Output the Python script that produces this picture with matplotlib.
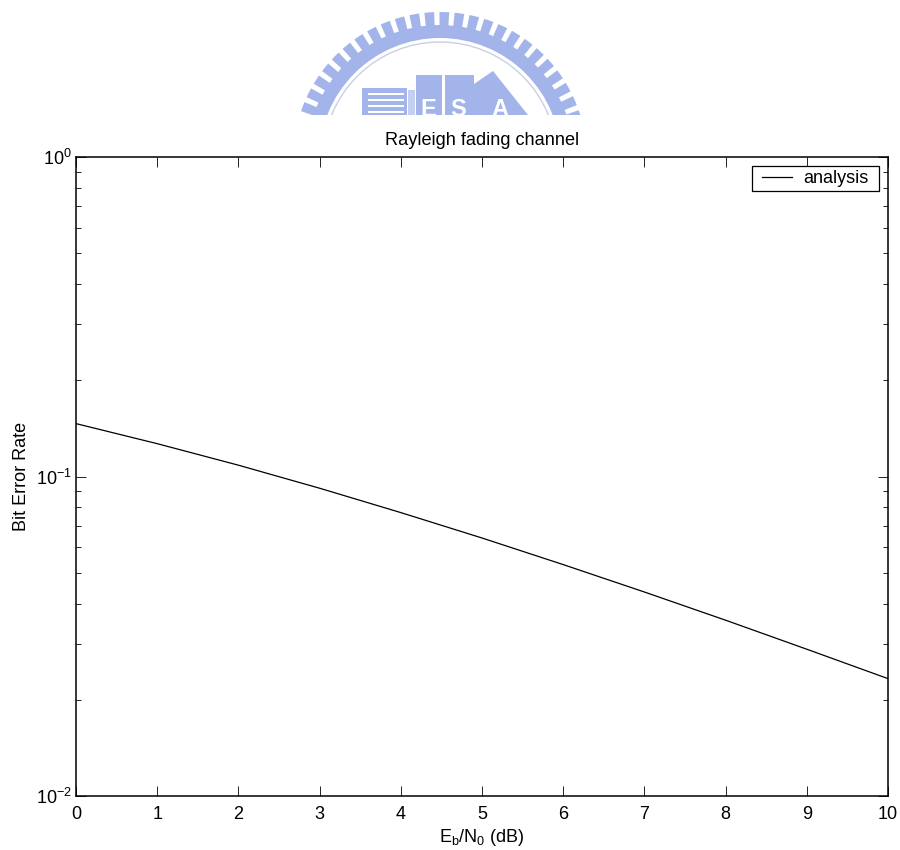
import numpy as np
from matplotlib import pyplot as plt
from matplotlib.patches import Wedge, Rectangle, Polygon, Circle
from matplotlib.ticker import LogLocator, NullFormatter

plt.rcParams['font.family'] = ['Liberation Sans', 'DejaVu Sans']
plt.rcParams['mathtext.fontset'] = 'custom'
plt.rcParams['mathtext.rm'] = 'Liberation Sans'
plt.rcParams['mathtext.it'] = 'Liberation Sans'
plt.rcParams['mathtext.default'] = 'regular'

# Curve
snr_db = [0, 1, 2, 3, 4, 5, 6, 7, 8, 9, 10]
ber = [0.1464, 0.1267, 0.1085, 0.0919, 0.0771, 0.0642, 0.0530, 0.0435, 0.0355, 0.0288, 0.0233]
x_ticks = [0, 1, 2, 3, 4, 5, 6, 7, 8, 9, 10]

W, H = 900, 850
LOGO = '#a3b4ea'

fig = plt.figure(figsize=(W / 100, H / 100), dpi=100)

# Logo behind the chart, cut off above the title (axes in image pixels, y points down)
logo = fig.add_axes([0, 0, 1, 1], zorder=0)
logo.set_xlim(0, W)
logo.set_ylim(H, 0)
logo.axis('off')
clip = Rectangle((0, 0), W, 115, transform=logo.transData)
cx, cy = 440, 159
parts = [Wedge((cx, cy), 134, -180, 0, width=13, fc=LOGO, ec='none')]
for ang in np.arange(-165, -15, 5.9):
    parts.append(Wedge((cx, cy), 147, ang - 1.9, ang + 1.9, width=15, fc=LOGO, ec='none'))
parts.append(Circle((cx, cy), 117, fc='none', ec='#c9d0e6', lw=1))
parts.append(Rectangle((362, 88), 45, 30, fc=LOGO, ec='none'))
parts.append(Rectangle((408, 90), 7, 30, fc='#c4cff2', ec='none'))
parts.append(Rectangle((416, 75), 26, 45, fc=LOGO, ec='none'))
parts.append(Rectangle((445, 75), 29, 45, fc=LOGO, ec='none'))
parts.append(Polygon([(474, 84), (493, 71), (532, 120), (474, 120)], fc=LOGO, ec='none'))
for y in [93, 99, 105, 111]:
    parts.append(Rectangle((368, y), 36, 2, fc='white', ec='none'))
for p in parts:
    logo.add_patch(p)
    p.set_clip_path(clip)
for lx, ly, s in [(428, 109, 'E'), (458, 109, 'S'), (500, 109, 'A')]:
    t = logo.text(lx, ly, s, color='white', fontsize=17, fontweight='bold', ha='center', va='center')
    t.set_clip_path(clip)

# Main chart
ax = fig.add_axes([76 / W, 1 - 796 / H, (888 - 76) / W, (796 - 157) / H], zorder=1)
ax.patch.set_alpha(0)
ax.semilogy(snr_db, ber, color='black', lw=0.9, label='analysis')
ax.set_xlim(0, 10)
ax.set_ylim(1e-2, 1)
ax.set_xticks(x_ticks)
ax.yaxis.set_major_locator(LogLocator(base=10, numticks=5))
ax.yaxis.set_minor_locator(LogLocator(base=10, subs=np.arange(2, 10), numticks=5))
ax.yaxis.set_minor_formatter(NullFormatter())
ax.tick_params(which='major', direction='in', top=True, right=True, length=7, width=0.6, labelsize=13, pad=3)
ax.tick_params(which='minor', direction='in', top=True, right=True, length=3.5, width=0.6)
ax.tick_params(axis='x', which='major', pad=7)
for s in ax.spines.values():
    s.set_linewidth(1.1)

ax.set_title('Rayleigh fading channel', fontsize=13.1, pad=9)
ax.set_xlabel('E$_{b}$/N$_{0}$ (dB)', fontsize=13, labelpad=3)
ax.set_ylabel('Bit Error Rate', fontsize=13, labelpad=4)

# Legend box drawn separately: side margins are wider than the top and bottom ones
ax.add_patch(Rectangle((752, 166), 127, 25, transform=logo.transData, fc='white', ec='black', lw=0.9, zorder=4))
ax.legend(loc='center right', fontsize=13, frameon=False, borderaxespad=0, borderpad=0,
          bbox_to_anchor=(792 / 812, 1 - 21.5 / 639), handlelength=1.66, handletextpad=0.62)

fig.savefig('out.png', dpi=100)
